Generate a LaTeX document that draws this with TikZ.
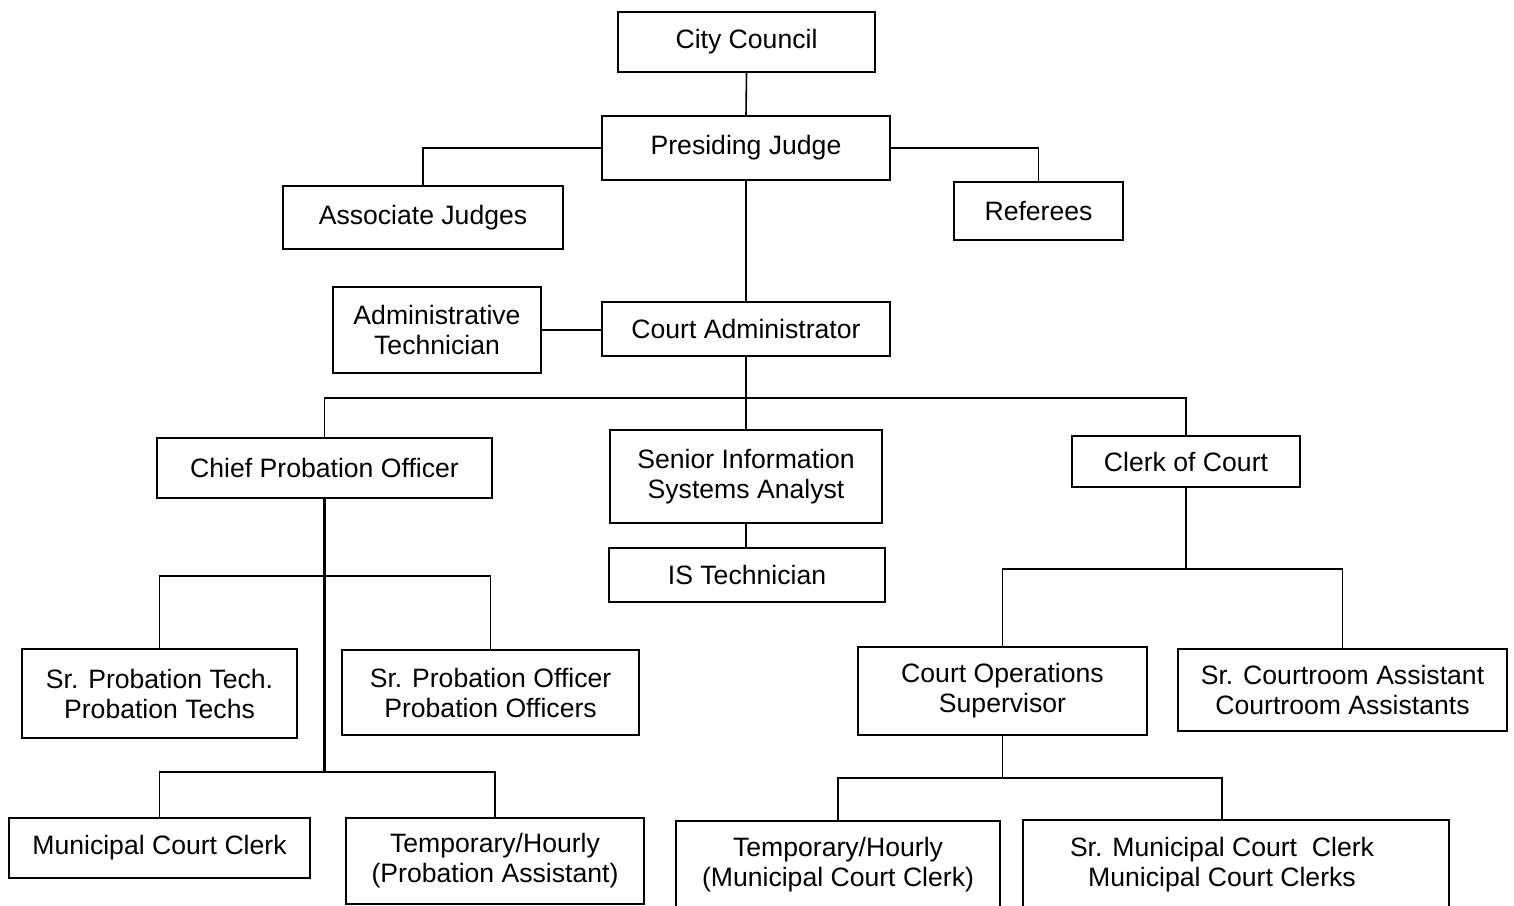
\documentclass[tikz,border=0pt]{standalone}
\usepackage{fontspec}
\setmainfont{Liberation Sans}
\begin{document}
\begin{tikzpicture}[x=1pt,y=-1pt,
  box/.style={draw=black,line width=1.6pt,inner sep=0pt,align=center,
    font=\fontsize{26.6}{30}\selectfont},
  link/.style={line width=1.6pt},
  trunk/.style={line width=2.6pt}]
\useasboundingbox (0,0) rectangle (1514,905);
\node[box,minimum width=257,minimum height=60] (cc) at (746.5,42) {City Council};
\node[box,minimum width=288,minimum height=64] (pj) at (746,148) {Presiding Judge};
\node[box,minimum width=280,minimum height=63] (aj) at (423,217.5) {Associate Judges};
\node[box,minimum width=169,minimum height=58] (ref) at (1038.5,211) {Referees};
\node[box,minimum width=208,minimum height=86] (at) at (437,330) {Administrative\\Technician};
\node[box,minimum width=288,minimum height=54] (ca) at (746,329) {Court Administrator};
\node[box,minimum width=335,minimum height=60] (cpo) at (324.5,468) {Chief Probation Officer};
\node[box,minimum width=272,minimum height=93] (sis) at (746,476.5) {Senior Information\\Systems Analyst};
\node[box,minimum width=276,minimum height=54] (ist) at (747,575) {IS Technician};
\node[box,minimum width=228,minimum height=51] (coc) at (1186,461.5) {Clerk of Court};
\node[box,minimum width=275,minimum height=89] (spt) at (159.5,693.5) {Sr. Probation Tech.\\Probation Techs};
\node[box,minimum width=297,minimum height=85] (spo) at (490.5,692.5) {Sr. Probation Officer\\Probation Officers};
\node[box,minimum width=301,minimum height=60] (mcc) at (159.5,848) {Municipal Court Clerk};
\node[box,minimum width=298,minimum height=86] (tha) at (495,861) {Temporary/Hourly\\(Probation Assistant)};
\node[box,minimum width=289,minimum height=88] (cos) at (1002.5,691) {Court Operations\\Supervisor};
\node[box,minimum width=329,minimum height=82] (sca) at (1342.5,690) {Sr. Courtroom Assistant\\Courtroom Assistants};
\node[box,minimum width=324,minimum height=88] (thm) at (838,865) {Temporary/Hourly\\(Municipal Court Clerk)};
\node[box,minimum width=426,minimum height=90] (smc) at (1236,865) {Sr. Municipal Court\ \ Clerk\hspace*{28pt}\\Municipal Court Clerks\hspace*{28pt}};
\coordinate (b1) at (746,398);
\coordinate (b2) at (324.5,576);
\coordinate (b3) at (324.5,772);
\coordinate (b4) at (1186,569);
\coordinate (b5) at (1002.5,778);
\draw[link] (cc.south) -- (pj.north);
\draw[link] (pj.west) -| (aj.north);
\draw[link] (pj.east) -| (ref.north);
\draw[link] (pj.south) -- (ca.north);
\draw[link] (at.east) -- (at.east -| ca.west);
\draw[trunk] (ca.south) -- (b1);
\draw[link] (cpo.north) |- (b1) -| (coc.north);
\draw[link] (b1) -- (sis.north);
\draw[link] (sis.south) -- (sis.south |- ist.north);
\draw[trunk] (cpo.south) -- (b3);
\draw[link] (spt.north) |- (b2) -| (spo.north);
\draw[link] (mcc.north) |- (b3) -| (tha.north);
\draw[trunk] (coc.south) -- (b4);
\draw[link] (cos.north) |- (b4) -| (sca.north);
\draw[link] (cos.south) -- (b5);
\draw[link] (thm.north) |- (b5) -| ([xshift=-14pt]smc.north);
\end{tikzpicture}
\end{document}
